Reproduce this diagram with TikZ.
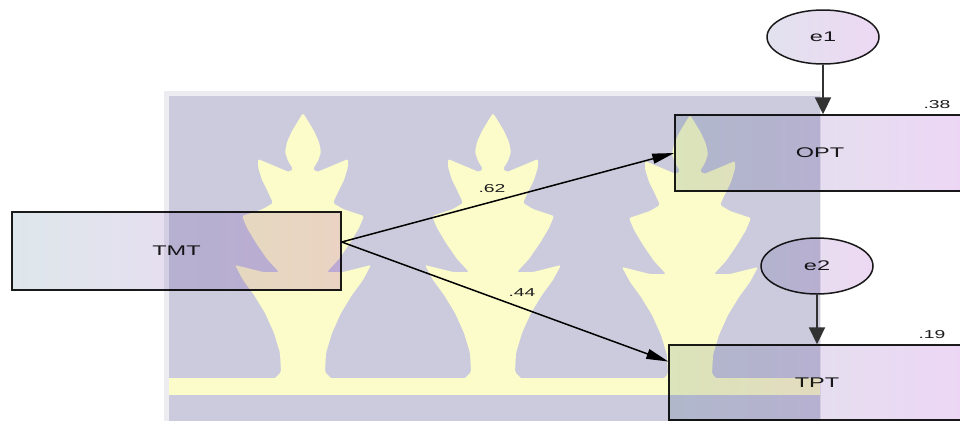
\documentclass[tikz,border=0pt]{standalone}
\usepackage{fontspec}
% labels are set in a horizontally widened sans
\setmainfont{Liberation Sans}[FakeStretch=1.68]
\usetikzlibrary{arrows.meta,shapes.geometric}

% palette
\definecolor{wmlav}{RGB}{203,203,221}
\definecolor{wmedge}{RGB}{236,236,241}
\definecolor{wmyel}{RGB}{252,252,203}
\definecolor{boxleft}{RGB}{222,231,235}
\definecolor{boxright}{RGB}{237,214,245}
\definecolor{errleft}{RGB}{226,226,238}
\definecolor{errright}{RGB}{237,216,243}
\definecolor{ink}{RGB}{28,28,28}
\definecolor{errink}{RGB}{50,50,50}

\begin{document}
\begin{tikzpicture}[x=1pt,y=-1pt,
  varbox/.style={draw=ink, line width=1.5pt, rectangle, left color=boxleft,
    right color=boxright, inner sep=0pt, text=ink,
    font=\fontsize{14}{17}\selectfont},
  errnode/.style={draw=ink, line width=1.5pt, ellipse, left color=errleft,
    right color=errright, minimum width=112pt, minimum height=54pt,
    inner sep=0pt, text=ink, font=\fontsize{14}{17}\selectfont},
  coefflabel/.style={inner sep=0pt, text=ink, font=\fontsize{11.5}{14}\selectfont},
  regarrow/.style={draw=black, line width=1.5pt, -{Triangle[length=22pt,width=10pt]}},
  errarrow/.style={draw=errink, line width=2.2pt, -{Triangle[length=17pt,width=16pt]}},
  treeshape/.style={fill=wmyel, rounded corners=1.5pt}
]
\useasboundingbox (0,0) rectangle (960,421);
\fill[white] (0,0) rectangle (960,421);

% background emblem: panel, three stylised trees on a common bar
\fill[wmedge] (164,91) rectangle (821,421);
\fill[wmlav] (169,96) rectangle (820,421);
\foreach \cx/\dy in {303/0, 493/0, 690/2}{
  \fill[treeshape, shift={(\cx,\dy)}]
    (0,113) -- (5,121) -- (11,131) -- (16,142) -- (18,152) -- (15,161) -- (10,169)
    -- (14,172) -- (26,167) -- (45,159)
    -- (45,167) -- (41,180) -- (35,192) -- (30,203)
    -- (40,209) -- (61,216)
    -- (56,228) -- (47,243) -- (36,259) -- (24,272)
    -- (40,272) -- (68,265)
    -- (60,280) -- (49,295) -- (38,313) -- (29,333) -- (23,353) -- (22,372) -- (30,380)
    -- (-30,380) -- (-22,372) -- (-23,353) -- (-29,333) -- (-38,313) -- (-49,295) -- (-60,280)
    -- (-68,265) -- (-40,272)
    -- (-24,272) -- (-36,259) -- (-47,243) -- (-56,228)
    -- (-61,216) -- (-40,209)
    -- (-30,203) -- (-35,192) -- (-41,180) -- (-45,167)
    -- (-45,159) -- (-26,167) -- (-14,172)
    -- (-10,169) -- (-15,161) -- (-18,152) -- (-16,142) -- (-11,131) -- (-5,121) -- cycle;
}
\fill[wmyel] (169,378) rectangle (820,395);

% variables and error terms
\begin{scope}[blend mode=multiply]
  \node[varbox, minimum width=329pt, minimum height=78pt] (TMT) at (176.5,251) {TMT};
  \node[varbox, minimum width=290pt, minimum height=76pt] (OPT) at (820,153) {OPT};
  \node[varbox, minimum width=296pt, minimum height=75pt] (TPT) at (817,382.5) {TPT};
  \node[errnode] (e1) at (823,37) {e1};
  \node[errnode, minimum height=56pt] (e2) at (817,266) {e2};
\end{scope}

% paths
\coordinate (tmtout) at ([yshift=9pt]TMT.east);
\coordinate (tptin) at ([yshift=21pt]TPT.west);
\draw[regarrow] (tmtout) -- (OPT.west);
\draw[regarrow] (tmtout) -- (tptin);
\draw[errarrow] (e1.south) -- (e1.south |- OPT.north);
\draw[errarrow] (e2.south) -- (e2.south |- TPT.north);

% estimates
\node[coefflabel] (b1) at (492,189) {.62};
\node[coefflabel] (b2) at (522,293) {.44};
\node[coefflabel] (r1) at (937,105) {.38};
\node[coefflabel] (r2) at (932,335) {.19};
\end{tikzpicture}
\end{document}
